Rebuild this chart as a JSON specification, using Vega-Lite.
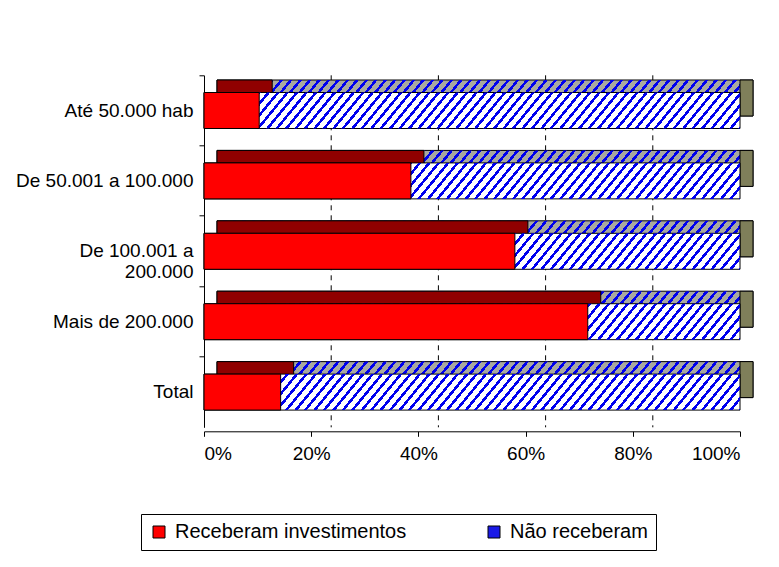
{
  "$schema": "https://vega.github.io/schema/vega-lite/v6.json",
  "width": 536,
  "height": 352,
  "autosize": {"type": "none"},
  "padding": {"left": 204, "top": 75.3, "right": 39, "bottom": 139.7},
  "background": "white",
  "data": {"values": [
    {"categoria": "Até 50.000 hab", "serie": "Receberam investimentos", "pct": 10.3},
    {"categoria": "Até 50.000 hab", "serie": "Não receberam", "pct": 89.7},
    {"categoria": "De 50.001 a 100.000", "serie": "Receberam investimentos", "pct": 38.6},
    {"categoria": "De 50.001 a 100.000", "serie": "Não receberam", "pct": 61.4},
    {"categoria": "De 100.001 a 200.000", "serie": "Receberam investimentos", "pct": 58.0},
    {"categoria": "De 100.001 a 200.000", "serie": "Não receberam", "pct": 42.0},
    {"categoria": "Mais de 200.000", "serie": "Receberam investimentos", "pct": 71.6},
    {"categoria": "Mais de 200.000", "serie": "Não receberam", "pct": 28.4},
    {"categoria": "Total", "serie": "Receberam investimentos", "pct": 14.3},
    {"categoria": "Total", "serie": "Não receberam", "pct": 85.7}
  ]},
  "datasets": {"grid": [{"v": 20}, {"v": 40}, {"v": 60}, {"v": 80}]},
  "layer": [
    {
      "data": {"name": "grid"},
      "mark": {"type": "rule", "color": "black", "strokeDash": [5, 5], "strokeWidth": 1, "xOffset": 20},
      "encoding": {"x": {"field": "v", "type": "quantitative", "title": null}}
    },
    {
      "encoding": {
        "y": {
          "field": "categoria", "type": "nominal", "title": null,
          "sort": ["Até 50.000 hab", "De 50.001 a 100.000", "De 100.001 a 200.000", "Mais de 200.000", "Total"],
          "scale": {"paddingInner": 0.489, "paddingOuter": 0.2445},
          "axis": {
            "bandPosition": -0.478,
            "labelExpr": "datum.label == 'De 100.001 a 200.000' ? ['De 100.001 a', '200.000\u2002\u2002\u2002'] : datum.label",
            "labelLineHeight": 21,
            "labelLimit": 300
          }
        }
      },
      "layer": [
        {
          "transform": [
            {"joinaggregate": [{"op": "sum", "field": "pct", "as": "total"}], "groupby": ["categoria"]},
            {"filter": "datum.serie == 'Não receberam'"}
          ],
          "mark": {"type": "bar", "fill": "#a8a8a0", "stroke": "black", "strokeWidth": 1, "xOffset": 13, "x2Offset": 13, "yOffset": -12.5, "y2Offset": -12.5},
          "encoding": {"x": {"field": "total", "type": "quantitative", "stack": "zero", "title": null}}
        },
        {
          "transform": [
            {"joinaggregate": [{"op": "sum", "field": "pct", "as": "total"}], "groupby": ["categoria"]},
            {"filter": "datum.serie == 'Não receberam'"}
          ],
          "mark": {"type": "bar", "xOffset": 13, "x2Offset": 13, "yOffset": -12.5, "y2Offset": -12.5,
            "fill": {
              "gradient": "linear", "x1": 0, "y1": 0, "x2": 1.055, "y2": 0.058,
              "stops": [
                {"offset":0,"color":"#fff0"},{"offset":0.0108,"color":"#fff0"},{"offset":0.0108,"color":"#00e"},{"offset":0.0167,"color":"#00e"},
                {"offset":0.0167,"color":"#fff0"},{"offset":0.0275,"color":"#fff0"},{"offset":0.0275,"color":"#00e"},{"offset":0.0333,"color":"#00e"},
                {"offset":0.0333,"color":"#fff0"},{"offset":0.0442,"color":"#fff0"},{"offset":0.0442,"color":"#00e"},{"offset":0.05,"color":"#00e"},
                {"offset":0.05,"color":"#fff0"},{"offset":0.0608,"color":"#fff0"},{"offset":0.0608,"color":"#00e"},{"offset":0.0667,"color":"#00e"},
                {"offset":0.0667,"color":"#fff0"},{"offset":0.0775,"color":"#fff0"},{"offset":0.0775,"color":"#00e"},{"offset":0.0833,"color":"#00e"},
                {"offset":0.0833,"color":"#fff0"},{"offset":0.0942,"color":"#fff0"},{"offset":0.0942,"color":"#00e"},{"offset":0.1,"color":"#00e"},
                {"offset":0.1,"color":"#fff0"},{"offset":0.1108,"color":"#fff0"},{"offset":0.1108,"color":"#00e"},{"offset":0.1167,"color":"#00e"},
                {"offset":0.1167,"color":"#fff0"},{"offset":0.1275,"color":"#fff0"},{"offset":0.1275,"color":"#00e"},{"offset":0.1333,"color":"#00e"},
                {"offset":0.1333,"color":"#fff0"},{"offset":0.1442,"color":"#fff0"},{"offset":0.1442,"color":"#00e"},{"offset":0.15,"color":"#00e"},
                {"offset":0.15,"color":"#fff0"},{"offset":0.1608,"color":"#fff0"},{"offset":0.1608,"color":"#00e"},{"offset":0.1667,"color":"#00e"},
                {"offset":0.1667,"color":"#fff0"},{"offset":0.1775,"color":"#fff0"},{"offset":0.1775,"color":"#00e"},{"offset":0.1833,"color":"#00e"},
                {"offset":0.1833,"color":"#fff0"},{"offset":0.1942,"color":"#fff0"},{"offset":0.1942,"color":"#00e"},{"offset":0.2,"color":"#00e"},
                {"offset":0.2,"color":"#fff0"},{"offset":0.2108,"color":"#fff0"},{"offset":0.2108,"color":"#00e"},{"offset":0.2167,"color":"#00e"},
                {"offset":0.2167,"color":"#fff0"},{"offset":0.2275,"color":"#fff0"},{"offset":0.2275,"color":"#00e"},{"offset":0.2333,"color":"#00e"},
                {"offset":0.2333,"color":"#fff0"},{"offset":0.2442,"color":"#fff0"},{"offset":0.2442,"color":"#00e"},{"offset":0.25,"color":"#00e"},
                {"offset":0.25,"color":"#fff0"},{"offset":0.2608,"color":"#fff0"},{"offset":0.2608,"color":"#00e"},{"offset":0.2667,"color":"#00e"},
                {"offset":0.2667,"color":"#fff0"},{"offset":0.2775,"color":"#fff0"},{"offset":0.2775,"color":"#00e"},{"offset":0.2833,"color":"#00e"},
                {"offset":0.2833,"color":"#fff0"},{"offset":0.2942,"color":"#fff0"},{"offset":0.2942,"color":"#00e"},{"offset":0.3,"color":"#00e"},
                {"offset":0.3,"color":"#fff0"},{"offset":0.3108,"color":"#fff0"},{"offset":0.3108,"color":"#00e"},{"offset":0.3167,"color":"#00e"},
                {"offset":0.3167,"color":"#fff0"},{"offset":0.3275,"color":"#fff0"},{"offset":0.3275,"color":"#00e"},{"offset":0.3333,"color":"#00e"},
                {"offset":0.3333,"color":"#fff0"},{"offset":0.3442,"color":"#fff0"},{"offset":0.3442,"color":"#00e"},{"offset":0.35,"color":"#00e"},
                {"offset":0.35,"color":"#fff0"},{"offset":0.3608,"color":"#fff0"},{"offset":0.3608,"color":"#00e"},{"offset":0.3667,"color":"#00e"},
                {"offset":0.3667,"color":"#fff0"},{"offset":0.3775,"color":"#fff0"},{"offset":0.3775,"color":"#00e"},{"offset":0.3833,"color":"#00e"},
                {"offset":0.3833,"color":"#fff0"},{"offset":0.3942,"color":"#fff0"},{"offset":0.3942,"color":"#00e"},{"offset":0.4,"color":"#00e"},
                {"offset":0.4,"color":"#fff0"},{"offset":0.4108,"color":"#fff0"},{"offset":0.4108,"color":"#00e"},{"offset":0.4167,"color":"#00e"},
                {"offset":0.4167,"color":"#fff0"},{"offset":0.4275,"color":"#fff0"},{"offset":0.4275,"color":"#00e"},{"offset":0.4333,"color":"#00e"},
                {"offset":0.4333,"color":"#fff0"},{"offset":0.4442,"color":"#fff0"},{"offset":0.4442,"color":"#00e"},{"offset":0.45,"color":"#00e"},
                {"offset":0.45,"color":"#fff0"},{"offset":0.4608,"color":"#fff0"},{"offset":0.4608,"color":"#00e"},{"offset":0.4667,"color":"#00e"},
                {"offset":0.4667,"color":"#fff0"},{"offset":0.4775,"color":"#fff0"},{"offset":0.4775,"color":"#00e"},{"offset":0.4833,"color":"#00e"},
                {"offset":0.4833,"color":"#fff0"},{"offset":0.4942,"color":"#fff0"},{"offset":0.4942,"color":"#00e"},{"offset":0.5,"color":"#00e"},
                {"offset":0.5,"color":"#fff0"},{"offset":0.5108,"color":"#fff0"},{"offset":0.5108,"color":"#00e"},{"offset":0.5167,"color":"#00e"},
                {"offset":0.5167,"color":"#fff0"},{"offset":0.5275,"color":"#fff0"},{"offset":0.5275,"color":"#00e"},{"offset":0.5333,"color":"#00e"},
                {"offset":0.5333,"color":"#fff0"},{"offset":0.5442,"color":"#fff0"},{"offset":0.5442,"color":"#00e"},{"offset":0.55,"color":"#00e"},
                {"offset":0.55,"color":"#fff0"},{"offset":0.5608,"color":"#fff0"},{"offset":0.5608,"color":"#00e"},{"offset":0.5667,"color":"#00e"},
                {"offset":0.5667,"color":"#fff0"},{"offset":0.5775,"color":"#fff0"},{"offset":0.5775,"color":"#00e"},{"offset":0.5833,"color":"#00e"},
                {"offset":0.5833,"color":"#fff0"},{"offset":0.5942,"color":"#fff0"},{"offset":0.5942,"color":"#00e"},{"offset":0.6,"color":"#00e"},
                {"offset":0.6,"color":"#fff0"},{"offset":0.6108,"color":"#fff0"},{"offset":0.6108,"color":"#00e"},{"offset":0.6167,"color":"#00e"},
                {"offset":0.6167,"color":"#fff0"},{"offset":0.6275,"color":"#fff0"},{"offset":0.6275,"color":"#00e"},{"offset":0.6333,"color":"#00e"},
                {"offset":0.6333,"color":"#fff0"},{"offset":0.6442,"color":"#fff0"},{"offset":0.6442,"color":"#00e"},{"offset":0.65,"color":"#00e"},
                {"offset":0.65,"color":"#fff0"},{"offset":0.6608,"color":"#fff0"},{"offset":0.6608,"color":"#00e"},{"offset":0.6667,"color":"#00e"},
                {"offset":0.6667,"color":"#fff0"},{"offset":0.6775,"color":"#fff0"},{"offset":0.6775,"color":"#00e"},{"offset":0.6833,"color":"#00e"},
                {"offset":0.6833,"color":"#fff0"},{"offset":0.6942,"color":"#fff0"},{"offset":0.6942,"color":"#00e"},{"offset":0.7,"color":"#00e"},
                {"offset":0.7,"color":"#fff0"},{"offset":0.7108,"color":"#fff0"},{"offset":0.7108,"color":"#00e"},{"offset":0.7167,"color":"#00e"},
                {"offset":0.7167,"color":"#fff0"},{"offset":0.7275,"color":"#fff0"},{"offset":0.7275,"color":"#00e"},{"offset":0.7333,"color":"#00e"},
                {"offset":0.7333,"color":"#fff0"},{"offset":0.7442,"color":"#fff0"},{"offset":0.7442,"color":"#00e"},{"offset":0.75,"color":"#00e"},
                {"offset":0.75,"color":"#fff0"},{"offset":0.7608,"color":"#fff0"},{"offset":0.7608,"color":"#00e"},{"offset":0.7667,"color":"#00e"},
                {"offset":0.7667,"color":"#fff0"},{"offset":0.7775,"color":"#fff0"},{"offset":0.7775,"color":"#00e"},{"offset":0.7833,"color":"#00e"},
                {"offset":0.7833,"color":"#fff0"},{"offset":0.7942,"color":"#fff0"},{"offset":0.7942,"color":"#00e"},{"offset":0.8,"color":"#00e"},
                {"offset":0.8,"color":"#fff0"},{"offset":0.8108,"color":"#fff0"},{"offset":0.8108,"color":"#00e"},{"offset":0.8167,"color":"#00e"},
                {"offset":0.8167,"color":"#fff0"},{"offset":0.8275,"color":"#fff0"},{"offset":0.8275,"color":"#00e"},{"offset":0.8333,"color":"#00e"},
                {"offset":0.8333,"color":"#fff0"},{"offset":0.8442,"color":"#fff0"},{"offset":0.8442,"color":"#00e"},{"offset":0.85,"color":"#00e"},
                {"offset":0.85,"color":"#fff0"},{"offset":0.8608,"color":"#fff0"},{"offset":0.8608,"color":"#00e"},{"offset":0.8667,"color":"#00e"},
                {"offset":0.8667,"color":"#fff0"},{"offset":0.8775,"color":"#fff0"},{"offset":0.8775,"color":"#00e"},{"offset":0.8833,"color":"#00e"},
                {"offset":0.8833,"color":"#fff0"},{"offset":0.8942,"color":"#fff0"},{"offset":0.8942,"color":"#00e"},{"offset":0.9,"color":"#00e"},
                {"offset":0.9,"color":"#fff0"},{"offset":0.9108,"color":"#fff0"},{"offset":0.9108,"color":"#00e"},{"offset":0.9167,"color":"#00e"},
                {"offset":0.9167,"color":"#fff0"},{"offset":0.9275,"color":"#fff0"},{"offset":0.9275,"color":"#00e"},{"offset":0.9333,"color":"#00e"},
                {"offset":0.9333,"color":"#fff0"},{"offset":0.9442,"color":"#fff0"},{"offset":0.9442,"color":"#00e"},{"offset":0.95,"color":"#00e"},
                {"offset":0.95,"color":"#fff0"},{"offset":0.9608,"color":"#fff0"},{"offset":0.9608,"color":"#00e"},{"offset":0.9667,"color":"#00e"},
                {"offset":0.9667,"color":"#fff0"},{"offset":0.9775,"color":"#fff0"},{"offset":0.9775,"color":"#00e"},{"offset":0.9833,"color":"#00e"},
                {"offset":0.9833,"color":"#fff0"},{"offset":0.9942,"color":"#fff0"},{"offset":0.9942,"color":"#00e"},{"offset":1,"color":"#00e"}
              ]
            }
          },
          "encoding": {"x": {"field": "total", "type": "quantitative", "stack": "zero", "title": null}}
        },
        {
          "transform": [{"filter": "datum.serie == 'Receberam investimentos'"}],
          "mark": {"type": "bar", "fill": "#900000", "stroke": "black", "strokeWidth": 1, "xOffset": 13, "x2Offset": 13, "yOffset": -12.5, "y2Offset": -12.5},
          "encoding": {"x": {"field": "pct", "type": "quantitative", "stack": "zero", "title": null}}
        },
        {
          "transform": [
            {"joinaggregate": [{"op": "sum", "field": "pct", "as": "total"}], "groupby": ["categoria"]},
            {"filter": "datum.serie == 'Não receberam'"}
          ],
          "mark": {"type": "bar", "fill": "#7f7f5a", "stroke": "black", "strokeWidth": 1, "x2Offset": 13, "yOffset": -12.5, "y2Offset": -12.5},
          "encoding": {"x": {"field": "total", "type": "quantitative", "title": null}, "x2": {"field": "total"}}
        },
        {
          "transform": [
            {"joinaggregate": [{"op": "sum", "field": "pct", "as": "total"}], "groupby": ["categoria"]},
            {"filter": "datum.serie == 'Não receberam'"}
          ],
          "mark": {"type": "bar", "fill": "white", "stroke": "black", "strokeWidth": 1},
          "encoding": {"x": {"field": "total", "type": "quantitative", "stack": null, "title": null}}
        },
        {
          "transform": [
            {"joinaggregate": [{"op": "sum", "field": "pct", "as": "total"}], "groupby": ["categoria"]},
            {"filter": "datum.serie == 'Não receberam'"}
          ],
          "mark": {"type": "bar",
            "fill": {
              "gradient": "linear", "x1": 0, "y1": 0, "x2": 1.055, "y2": 0.058,
              "stops": [
                {"offset":0,"color":"#fff0"},{"offset":0.0108,"color":"#fff0"},{"offset":0.0108,"color":"#00e"},{"offset":0.0167,"color":"#00e"},
                {"offset":0.0167,"color":"#fff0"},{"offset":0.0275,"color":"#fff0"},{"offset":0.0275,"color":"#00e"},{"offset":0.0333,"color":"#00e"},
                {"offset":0.0333,"color":"#fff0"},{"offset":0.0442,"color":"#fff0"},{"offset":0.0442,"color":"#00e"},{"offset":0.05,"color":"#00e"},
                {"offset":0.05,"color":"#fff0"},{"offset":0.0608,"color":"#fff0"},{"offset":0.0608,"color":"#00e"},{"offset":0.0667,"color":"#00e"},
                {"offset":0.0667,"color":"#fff0"},{"offset":0.0775,"color":"#fff0"},{"offset":0.0775,"color":"#00e"},{"offset":0.0833,"color":"#00e"},
                {"offset":0.0833,"color":"#fff0"},{"offset":0.0942,"color":"#fff0"},{"offset":0.0942,"color":"#00e"},{"offset":0.1,"color":"#00e"},
                {"offset":0.1,"color":"#fff0"},{"offset":0.1108,"color":"#fff0"},{"offset":0.1108,"color":"#00e"},{"offset":0.1167,"color":"#00e"},
                {"offset":0.1167,"color":"#fff0"},{"offset":0.1275,"color":"#fff0"},{"offset":0.1275,"color":"#00e"},{"offset":0.1333,"color":"#00e"},
                {"offset":0.1333,"color":"#fff0"},{"offset":0.1442,"color":"#fff0"},{"offset":0.1442,"color":"#00e"},{"offset":0.15,"color":"#00e"},
                {"offset":0.15,"color":"#fff0"},{"offset":0.1608,"color":"#fff0"},{"offset":0.1608,"color":"#00e"},{"offset":0.1667,"color":"#00e"},
                {"offset":0.1667,"color":"#fff0"},{"offset":0.1775,"color":"#fff0"},{"offset":0.1775,"color":"#00e"},{"offset":0.1833,"color":"#00e"},
                {"offset":0.1833,"color":"#fff0"},{"offset":0.1942,"color":"#fff0"},{"offset":0.1942,"color":"#00e"},{"offset":0.2,"color":"#00e"},
                {"offset":0.2,"color":"#fff0"},{"offset":0.2108,"color":"#fff0"},{"offset":0.2108,"color":"#00e"},{"offset":0.2167,"color":"#00e"},
                {"offset":0.2167,"color":"#fff0"},{"offset":0.2275,"color":"#fff0"},{"offset":0.2275,"color":"#00e"},{"offset":0.2333,"color":"#00e"},
                {"offset":0.2333,"color":"#fff0"},{"offset":0.2442,"color":"#fff0"},{"offset":0.2442,"color":"#00e"},{"offset":0.25,"color":"#00e"},
                {"offset":0.25,"color":"#fff0"},{"offset":0.2608,"color":"#fff0"},{"offset":0.2608,"color":"#00e"},{"offset":0.2667,"color":"#00e"},
                {"offset":0.2667,"color":"#fff0"},{"offset":0.2775,"color":"#fff0"},{"offset":0.2775,"color":"#00e"},{"offset":0.2833,"color":"#00e"},
                {"offset":0.2833,"color":"#fff0"},{"offset":0.2942,"color":"#fff0"},{"offset":0.2942,"color":"#00e"},{"offset":0.3,"color":"#00e"},
                {"offset":0.3,"color":"#fff0"},{"offset":0.3108,"color":"#fff0"},{"offset":0.3108,"color":"#00e"},{"offset":0.3167,"color":"#00e"},
                {"offset":0.3167,"color":"#fff0"},{"offset":0.3275,"color":"#fff0"},{"offset":0.3275,"color":"#00e"},{"offset":0.3333,"color":"#00e"},
                {"offset":0.3333,"color":"#fff0"},{"offset":0.3442,"color":"#fff0"},{"offset":0.3442,"color":"#00e"},{"offset":0.35,"color":"#00e"},
                {"offset":0.35,"color":"#fff0"},{"offset":0.3608,"color":"#fff0"},{"offset":0.3608,"color":"#00e"},{"offset":0.3667,"color":"#00e"},
                {"offset":0.3667,"color":"#fff0"},{"offset":0.3775,"color":"#fff0"},{"offset":0.3775,"color":"#00e"},{"offset":0.3833,"color":"#00e"},
                {"offset":0.3833,"color":"#fff0"},{"offset":0.3942,"color":"#fff0"},{"offset":0.3942,"color":"#00e"},{"offset":0.4,"color":"#00e"},
                {"offset":0.4,"color":"#fff0"},{"offset":0.4108,"color":"#fff0"},{"offset":0.4108,"color":"#00e"},{"offset":0.4167,"color":"#00e"},
                {"offset":0.4167,"color":"#fff0"},{"offset":0.4275,"color":"#fff0"},{"offset":0.4275,"color":"#00e"},{"offset":0.4333,"color":"#00e"},
                {"offset":0.4333,"color":"#fff0"},{"offset":0.4442,"color":"#fff0"},{"offset":0.4442,"color":"#00e"},{"offset":0.45,"color":"#00e"},
                {"offset":0.45,"color":"#fff0"},{"offset":0.4608,"color":"#fff0"},{"offset":0.4608,"color":"#00e"},{"offset":0.4667,"color":"#00e"},
                {"offset":0.4667,"color":"#fff0"},{"offset":0.4775,"color":"#fff0"},{"offset":0.4775,"color":"#00e"},{"offset":0.4833,"color":"#00e"},
                {"offset":0.4833,"color":"#fff0"},{"offset":0.4942,"color":"#fff0"},{"offset":0.4942,"color":"#00e"},{"offset":0.5,"color":"#00e"},
                {"offset":0.5,"color":"#fff0"},{"offset":0.5108,"color":"#fff0"},{"offset":0.5108,"color":"#00e"},{"offset":0.5167,"color":"#00e"},
                {"offset":0.5167,"color":"#fff0"},{"offset":0.5275,"color":"#fff0"},{"offset":0.5275,"color":"#00e"},{"offset":0.5333,"color":"#00e"},
                {"offset":0.5333,"color":"#fff0"},{"offset":0.5442,"color":"#fff0"},{"offset":0.5442,"color":"#00e"},{"offset":0.55,"color":"#00e"},
                {"offset":0.55,"color":"#fff0"},{"offset":0.5608,"color":"#fff0"},{"offset":0.5608,"color":"#00e"},{"offset":0.5667,"color":"#00e"},
                {"offset":0.5667,"color":"#fff0"},{"offset":0.5775,"color":"#fff0"},{"offset":0.5775,"color":"#00e"},{"offset":0.5833,"color":"#00e"},
                {"offset":0.5833,"color":"#fff0"},{"offset":0.5942,"color":"#fff0"},{"offset":0.5942,"color":"#00e"},{"offset":0.6,"color":"#00e"},
                {"offset":0.6,"color":"#fff0"},{"offset":0.6108,"color":"#fff0"},{"offset":0.6108,"color":"#00e"},{"offset":0.6167,"color":"#00e"},
                {"offset":0.6167,"color":"#fff0"},{"offset":0.6275,"color":"#fff0"},{"offset":0.6275,"color":"#00e"},{"offset":0.6333,"color":"#00e"},
                {"offset":0.6333,"color":"#fff0"},{"offset":0.6442,"color":"#fff0"},{"offset":0.6442,"color":"#00e"},{"offset":0.65,"color":"#00e"},
                {"offset":0.65,"color":"#fff0"},{"offset":0.6608,"color":"#fff0"},{"offset":0.6608,"color":"#00e"},{"offset":0.6667,"color":"#00e"},
                {"offset":0.6667,"color":"#fff0"},{"offset":0.6775,"color":"#fff0"},{"offset":0.6775,"color":"#00e"},{"offset":0.6833,"color":"#00e"},
                {"offset":0.6833,"color":"#fff0"},{"offset":0.6942,"color":"#fff0"},{"offset":0.6942,"color":"#00e"},{"offset":0.7,"color":"#00e"},
                {"offset":0.7,"color":"#fff0"},{"offset":0.7108,"color":"#fff0"},{"offset":0.7108,"color":"#00e"},{"offset":0.7167,"color":"#00e"},
                {"offset":0.7167,"color":"#fff0"},{"offset":0.7275,"color":"#fff0"},{"offset":0.7275,"color":"#00e"},{"offset":0.7333,"color":"#00e"},
                {"offset":0.7333,"color":"#fff0"},{"offset":0.7442,"color":"#fff0"},{"offset":0.7442,"color":"#00e"},{"offset":0.75,"color":"#00e"},
                {"offset":0.75,"color":"#fff0"},{"offset":0.7608,"color":"#fff0"},{"offset":0.7608,"color":"#00e"},{"offset":0.7667,"color":"#00e"},
                {"offset":0.7667,"color":"#fff0"},{"offset":0.7775,"color":"#fff0"},{"offset":0.7775,"color":"#00e"},{"offset":0.7833,"color":"#00e"},
                {"offset":0.7833,"color":"#fff0"},{"offset":0.7942,"color":"#fff0"},{"offset":0.7942,"color":"#00e"},{"offset":0.8,"color":"#00e"},
                {"offset":0.8,"color":"#fff0"},{"offset":0.8108,"color":"#fff0"},{"offset":0.8108,"color":"#00e"},{"offset":0.8167,"color":"#00e"},
                {"offset":0.8167,"color":"#fff0"},{"offset":0.8275,"color":"#fff0"},{"offset":0.8275,"color":"#00e"},{"offset":0.8333,"color":"#00e"},
                {"offset":0.8333,"color":"#fff0"},{"offset":0.8442,"color":"#fff0"},{"offset":0.8442,"color":"#00e"},{"offset":0.85,"color":"#00e"},
                {"offset":0.85,"color":"#fff0"},{"offset":0.8608,"color":"#fff0"},{"offset":0.8608,"color":"#00e"},{"offset":0.8667,"color":"#00e"},
                {"offset":0.8667,"color":"#fff0"},{"offset":0.8775,"color":"#fff0"},{"offset":0.8775,"color":"#00e"},{"offset":0.8833,"color":"#00e"},
                {"offset":0.8833,"color":"#fff0"},{"offset":0.8942,"color":"#fff0"},{"offset":0.8942,"color":"#00e"},{"offset":0.9,"color":"#00e"},
                {"offset":0.9,"color":"#fff0"},{"offset":0.9108,"color":"#fff0"},{"offset":0.9108,"color":"#00e"},{"offset":0.9167,"color":"#00e"},
                {"offset":0.9167,"color":"#fff0"},{"offset":0.9275,"color":"#fff0"},{"offset":0.9275,"color":"#00e"},{"offset":0.9333,"color":"#00e"},
                {"offset":0.9333,"color":"#fff0"},{"offset":0.9442,"color":"#fff0"},{"offset":0.9442,"color":"#00e"},{"offset":0.95,"color":"#00e"},
                {"offset":0.95,"color":"#fff0"},{"offset":0.9608,"color":"#fff0"},{"offset":0.9608,"color":"#00e"},{"offset":0.9667,"color":"#00e"},
                {"offset":0.9667,"color":"#fff0"},{"offset":0.9775,"color":"#fff0"},{"offset":0.9775,"color":"#00e"},{"offset":0.9833,"color":"#00e"},
                {"offset":0.9833,"color":"#fff0"},{"offset":0.9942,"color":"#fff0"},{"offset":0.9942,"color":"#00e"},{"offset":1,"color":"#00e"}
              ]
            }
          },
          "encoding": {"x": {"field": "total", "type": "quantitative", "stack": null, "title": null}}
        },
        {
          "transform": [{"filter": "datum.serie == 'Receberam investimentos'"}],
          "mark": {"type": "bar", "stroke": "black", "strokeWidth": 1},
          "encoding": {
            "x": {
              "field": "pct", "type": "quantitative", "stack": null, "title": null,
              "scale": {"domain": [0, 100], "nice": false},
              "axis": {"values": [0, 20, 40, 60, 80, 100], "labelExpr": "datum.value + '%'"}
            },
            "color": {
              "field": "serie", "type": "nominal",
              "scale": {"domain": ["Receberam investimentos", "Não receberam"], "range": ["#ff0000", "#1a1ae6"]},
              "legend": {
                "orient": "none", "legendX": -63, "legendY": 438.7, "direction": "horizontal", "columns": 2,
                "title": null, "strokeColor": "black", "padding": 8,
                "labelFont": "Liberation Sans", "labelFontSize": 20, "labelColor": "black", "labelLimit": 400, "labelOffset": 6,
                "symbolType": "square", "symbolSize": 144, "symbolStrokeColor": "black", "symbolStrokeWidth": 1,
                "columnPadding": 77
              }
            }
          }
        }
      ]
    }
  ],
  "config": {
    "font": "Liberation Sans",
    "view": {"stroke": null},
    "axis": {"labelFont": "Liberation Sans", "labelFontSize": 19, "labelColor": "black", "domainColor": "black", "tickColor": "black", "tickSize": 5, "grid": false, "domainWidth": 1, "tickWidth": 1},
    "axisX": {"labelPadding": 8, "offset": 4},
    "axisY": {"labelPadding": 6}
  }
}
